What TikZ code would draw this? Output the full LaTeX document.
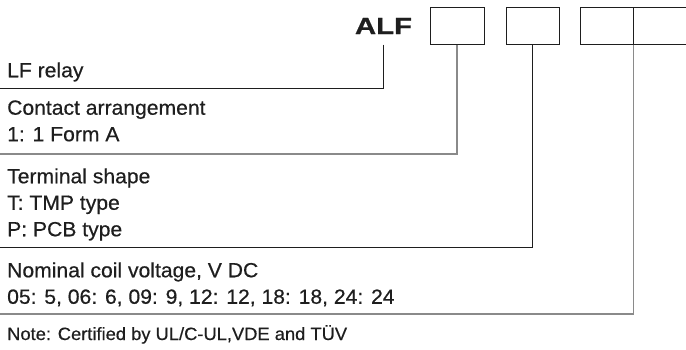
\documentclass[tikz,border=0pt]{standalone}
\usepackage{fontspec}
\usepackage{tikz}
\setmainfont{Liberation Sans}[FakeStretch=1.03, FakeBold=0.5]
\newfontfamily\codefont{Liberation Sans}[FakeStretch=1.26, FakeBold=0.8]
\definecolor{ink}{HTML}{1E1E1E}
\definecolor{leadgray}{HTML}{8A8A8A}

\begin{document}
\begin{tikzpicture}[x=1pt, y=-1pt,
	codebox/.style={draw=ink, line width=1pt, minimum height=37pt, inner sep=0},
	darklead/.style={draw=ink, line width=1pt},
	greylead/.style={draw=leadgray, line width=1.3pt},
	section/.style={anchor=north west, inner sep=0, align=left, text=ink, font=\fontsize{20.5}{26.5}\selectfont}]
	
	\useasboundingbox (0,0) rectangle (686,349);
	
	% part number and code boxes
	\node[anchor=base, inner sep=0, text=ink, font=\codefont\bfseries\fontsize{23.3}{23.3}\selectfont] (alf) at (383.5,34) {ALF};
	\node[codebox, minimum width=54pt] (b1) at (457,25.5) {};
	\node[codebox, minimum width=53pt] (b2) at (532.5,25.5) {};
	\node[codebox, minimum width=53pt] (b3) at (606.5,25.5) {};
	\node[codebox, minimum width=55pt] (b4) at (660.5,25.5) {};
	
	% left ends of the leads
	\coordinate (e1) at (0,88);
	\coordinate (e2) at (0,154);
	\coordinate (e3) at (0,247);
	\coordinate (e4) at (0,314);
	
	\draw[darklead] (alf.south |- b1.south) |- (e1);
	\draw[greylead] (b1.south) |- (e2);
	\draw[darklead] (b2.south) |- (e3);
	\draw[greylead] (b3.south east) |- (e4);
	
	% descriptions
	\node[section] (relay) at (7,62.2) {LF relay};
	\node[section] (contact) at (7,100.2) {Contact arrangement\\1: 1 Form A};
	\node[section] (terminal) at (7,168.2) {Terminal shape\\T: TMP type\\P: PCB type};
	\node[section] (coil) at (7,262.2) {Nominal coil voltage, V DC\\05: 5, 06: 6, 09: 9, 12: 12, 18: 18, 24: 24};
	\node[anchor=base west, inner sep=0, text=ink, font=\fontsize{17.8}{17.8}\selectfont] (note) at (7,340) {Note: Certified by UL/C-UL,VDE and TÜV};
	
\end{tikzpicture}
\end{document}
